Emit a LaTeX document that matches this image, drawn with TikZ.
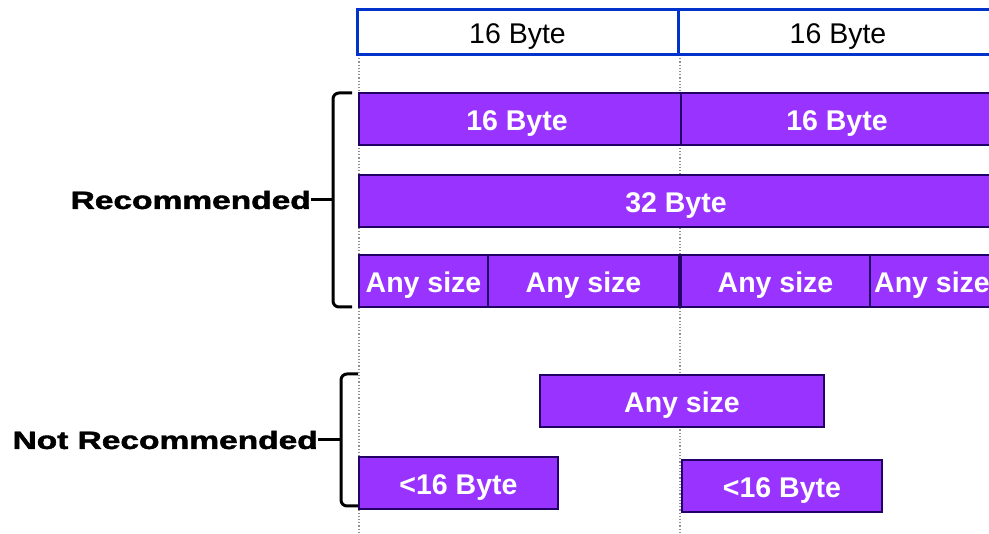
\documentclass[tikz,border=0pt]{standalone}
\usepackage{fontspec}
\setmainfont{Liberation Sans}
\newfontfamily\heavyfont{Liberation Sans}[BoldFeatures={FakeBold=1.6}]
\usepackage{graphicx}
\definecolor{boxblue}{HTML}{0033CC}
\definecolor{fillpurple}{HTML}{9933FF}
\definecolor{edgenavy}{HTML}{220066}
\definecolor{guidegray}{HTML}{909090}
% lower the printed text a little without changing its measured size
\newcommand\boxtext[1]{\raisebox{-4.5pt}[\height][\depth]{#1}}
\tikzset{
  slot/.style={draw=boxblue, line width=3pt, fill=white, inner sep=0pt,
    font=\fontsize{28.5}{30}\selectfont, text=black},
  chunk/.style={draw=edgenavy, line width=2pt, fill=fillpurple, inner sep=0pt,
    minimum height=52pt, font=\fontsize{28.5}{30}\selectfont\bfseries, text=white},
  chunktext/.style={inner sep=0pt, text=white, font=\fontsize{28.5}{30}\selectfont\bfseries},
  guide/.style={draw=guidegray, line width=1.2pt, dotted},
  bracket/.style={draw=black, line width=3pt, rounded corners=6pt},
  tick/.style={draw=black, line width=3pt},
  grouplabel/.style={inner sep=0pt, anchor=east, font=\fontsize{25}{27}\selectfont\heavyfont\bfseries}
}
\begin{document}
\begin{tikzpicture}[x=1pt, y=-1pt]
  \useasboundingbox (0,0) rectangle (989,534);
  \clip (0,0) rectangle (989,534);

  % alignment guides at the 16-byte boundaries
  \coordinate (g1top) at (359,55);
  \coordinate (g1bot) at (359,534);
  \coordinate (g2top) at (680,55);
  \coordinate (g2bot) at (680,534);
  \draw[guide] (g1top) -- (g1bot);
  \draw[guide] (g2top) -- (g2bot);

  % 16-byte slots
  \node[slot, minimum width=321pt, minimum height=45pt] (s1) at (517.5,32.5) {\boxtext{16 Byte}};
  \node[slot, minimum width=320pt, minimum height=45pt] (s2) at (838,32.5) {\boxtext{16 Byte}};

  % recommended layouts
  \node[chunk, minimum width=322pt] (a1) at (520,119) {};
  \node[chunk, minimum width=312pt] (a2) at (837,119) {};
  \node[chunktext] (a1t) at (517,119) {\boxtext{16 Byte}};
  \node[chunktext] (a2t) at (837,119) {\boxtext{16 Byte}};

  \node[chunk, minimum width=634pt] (b1) at (676,201) {\boxtext{32 Byte}};

  \node[chunk, minimum width=129pt] (c1) at (423.5,281) {\boxtext{Any size}};
  \node[chunk, minimum width=191pt] (c2) at (583.5,281) {\boxtext{Any size}};
  \node[chunk, minimum width=189pt] (c3) at (775.5,281) {\boxtext{Any size}};
  \node[chunk, minimum width=123pt] (c4) at (931.5,281) {};
  \node[chunktext, anchor=west] (c4t) at (874,281) {\boxtext{Any size}};

  % not recommended layouts
  \node[chunk, minimum width=284pt] (d1) at (682,401) {\boxtext{Any size}};
  \node[chunk, minimum width=199pt] (e1) at (458.5,483) {\boxtext{<16 Byte}};
  \node[chunk, minimum width=200pt] (e2) at (782,486) {\boxtext{<16 Byte}};

  % group brackets
  \coordinate (r0) at (352,93);
  \coordinate (r1) at (352,307);
  \coordinate (rm) at (333,200);
  \draw[bracket] (r0) -| (rm) |- (r1);
  \node[grouplabel] (rl) at (311,200) {\scalebox{1.34}[1]{Recommended}};
  \draw[tick] (rl.east) -- (rm);

  \coordinate (n0) at (358,374);
  \coordinate (n1) at (358,506);
  \coordinate (nm) at (341,440);
  \draw[bracket] (n0) -| (nm) |- (n1);
  \node[grouplabel] (nl) at (318,440) {\scalebox{1.34}[1]{Not Recommended}};
  \draw[tick] (nl.east) -- (nm);
\end{tikzpicture}
\end{document}
